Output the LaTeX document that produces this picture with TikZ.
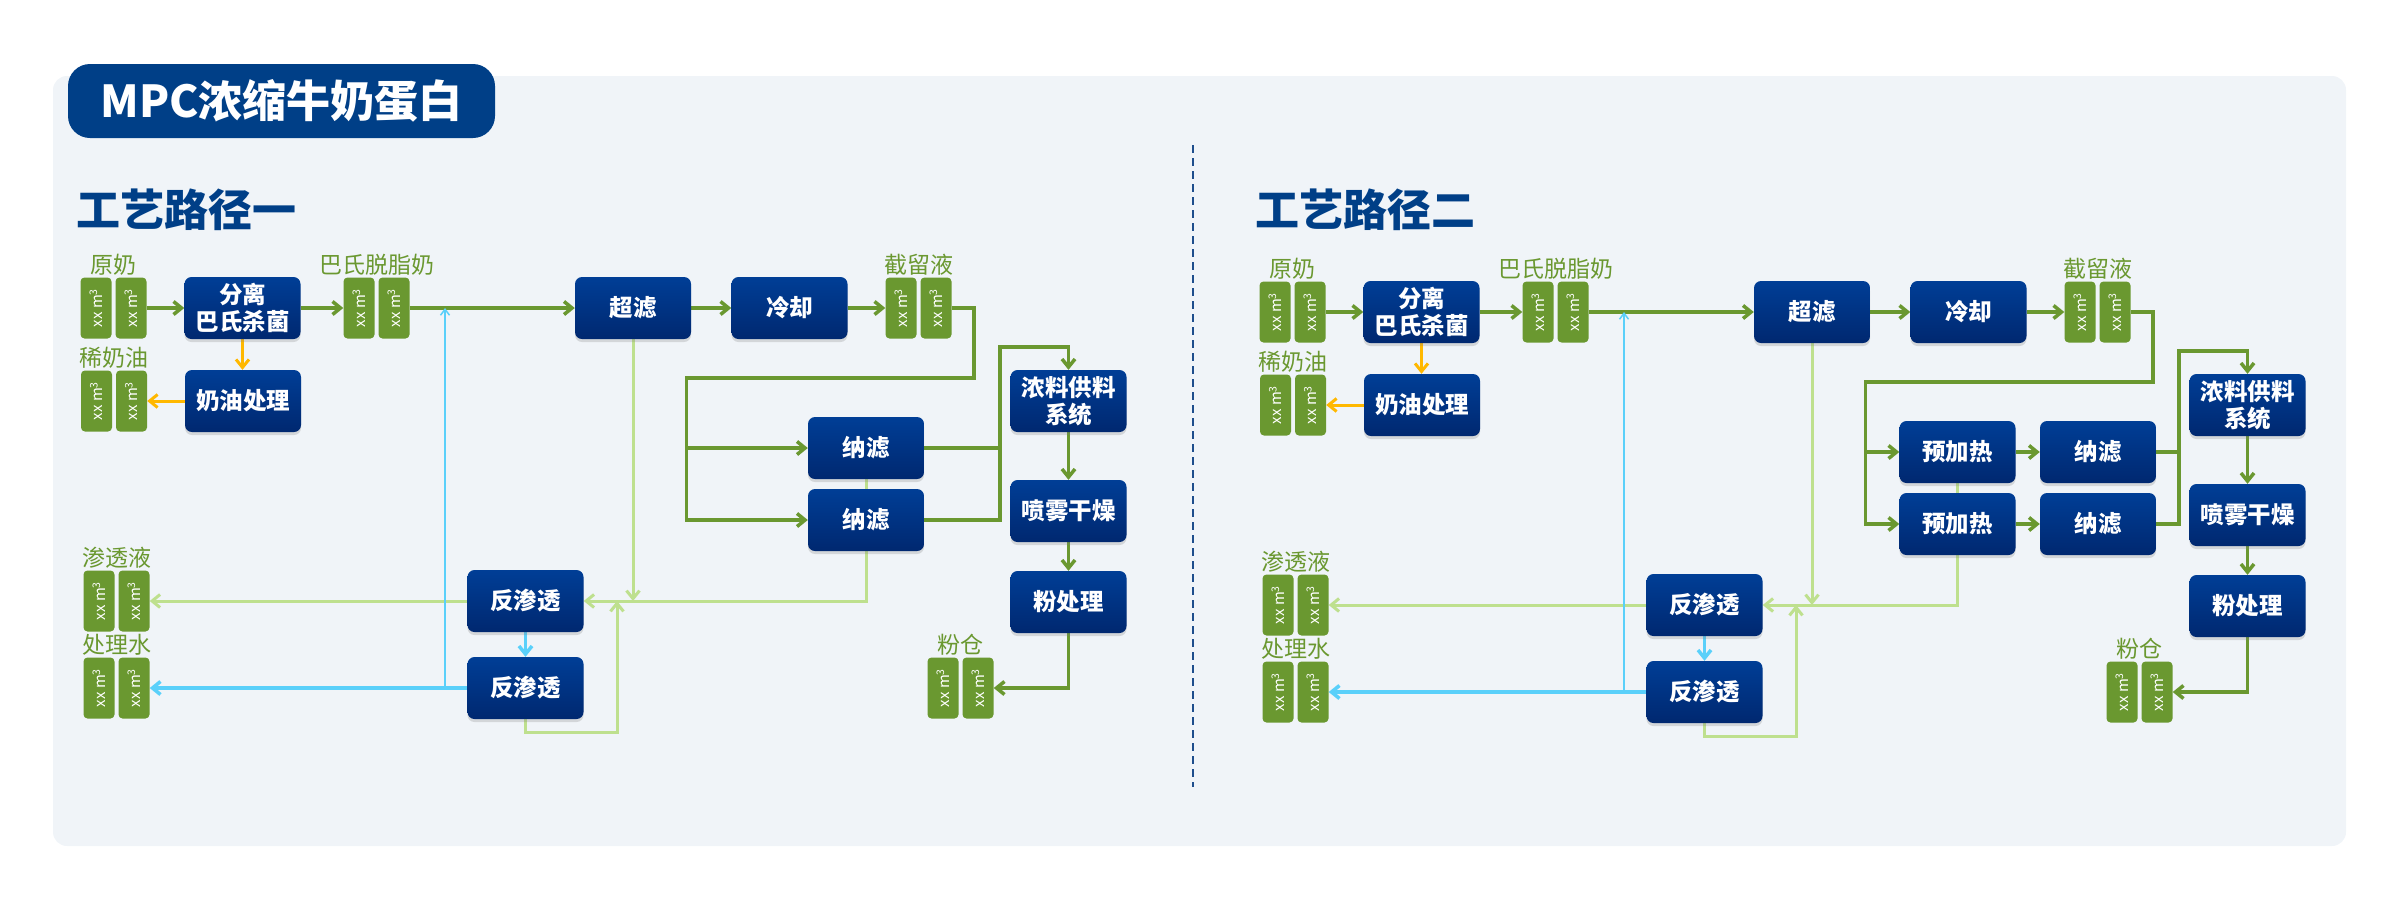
\documentclass[tikz,border=0pt]{standalone}
\usepackage{fontspec}
\setmainfont{Noto Sans CJK SC}
\usepackage{graphicx}
\usepackage{xcolor}
\usepackage{tikz}
\usetikzlibrary{arrows.meta, shadows}

\definecolor{fundo}{RGB}{240,244,248}
\definecolor{titulo}{RGB}{0,63,135}
\definecolor{caixaA}{RGB}{0,62,150}
\definecolor{caixaB}{RGB}{0,40,112}
\definecolor{verdetq}{RGB}{106,152,48}
\definecolor{verdeclaro}{RGB}{190,224,142}
\definecolor{celeste}{RGB}{90,208,250}
\definecolor{ambar}{RGB}{255,184,0}
\definecolor{tracejado}{RGB}{30,78,140}

\pgfdeclarelayer{bg}
\pgfsetlayers{bg,main}

\begin{document}
\begin{tikzpicture}[
    x=1pt, y=-1pt,
    every node/.style={inner sep=0pt},
    processo/.style={rounded corners=7pt, top color=caixaA, bottom color=caixaB,
      minimum width=116pt, minimum height=62pt, text=white, align=center,
      font=\fontsize{23.5}{27}\selectfont\bfseries,
      drop shadow={shadow xshift=0pt, shadow yshift=-3pt, opacity=0.25}},
    tanque/.style={rounded corners=4pt, fill=verdetq, minimum width=31pt,
      minimum height=61pt, text=white, font=\fontsize{15}{15}\selectfont},
    rotulo/.style={text=verdetq, font=\fontsize{23}{23}\selectfont}
  ]
  \tikzset{
    seta/.style={draw=verdetq, line width=3.5pt, -{Straight Barb[length=8pt,width=13pt]}},
    linha/.style={draw=verdetq, line width=3.5pt},
    setaclara/.style={draw=verdeclaro, line width=3pt, -{Straight Barb[length=8pt,width=13pt]}},
    setaazul/.style={draw=celeste, line width=3.5pt, -{Straight Barb[length=8pt,width=13pt]}},
    setafina/.style={draw=celeste, line width=1.5pt, -{Straight Barb[length=6pt,width=9pt]}},
    setaamarela/.style={draw=ambar, line width=3pt, -{Straight Barb[length=8pt,width=13pt]}}
  }
  \useasboundingbox (0,0) rectangle (2386,911);
  \begin{pgfonlayer}{bg}
    \fill[fundo, rounded corners=14pt] (53,76) rectangle (2346,846);
  \end{pgfonlayer}
  \node[fill=titulo, rounded corners=22pt, minimum width=427pt, minimum height=74pt,
    text=white, font=\fontsize{44}{44}\selectfont\bfseries] (mpc) at (281.5,101) {MPC浓缩牛奶蛋白};
  \node[anchor=west, text=titulo, font=\fontsize{44}{44}\selectfont\bfseries] (rota1) at (76,210) {工艺路径一};
  \node[anchor=west, text=titulo, font=\fontsize{44}{44}\selectfont\bfseries] (rota2) at (1255,210) {工艺路径二};
  \draw[tracejado, line width=2pt, dash pattern=on 8pt off 5pt] (1193,145) -- (1193,787);

  \begin{scope}[shift={(1179,4)}, name prefix=b-]
    \node[processo] (ph1) at (778.5,448) {预加热};
    \node[processo] (ph2) at (778.5,520) {预加热};
  \end{scope}

  \foreach \p/\dx/\dy/\xn/\e in {a/0/0/866/nf, b/1179/4/919/ph}{
  \begin{scope}[shift={(\dx,\dy)}, name prefix=\p-]
    \foreach \n/\x/\y/\rot in {cru/113.5/308/原奶, creme/114/401/稀奶油, desnat/376.5/308/巴氏脱脂奶,
        retido/918.5/308/截留液, po/960.5/688/粉仓, perm/116.5/601/渗透液, agua/116.5/688/处理水}{
      \node[tanque] (\n1) at (\x-17.5,\y) {\rotatebox{90}{xx m\textsuperscript{3}}};
      \node[tanque] (\n2) at (\x+17.5,\y) {\rotatebox{90}{xx m\textsuperscript{3}}};
      \node[rotulo] (\n) at (\x,\y-43) {\rot};
    }
    \foreach \n/\x/\y/\rot in {sep/242.5/308/{分离\\巴氏杀菌}, oleo/243/401/奶油处理, uf/633/308/超滤,
        frio/789.5/308/冷却, nf1/\xn/448/纳滤, nf2/\xn/520/纳滤, conc/1068.5/401/{浓料供料\\系统},
        spray/1068.5/511/喷雾干燥, pow/1068.5/602/粉处理, ro1/525.5/601/反渗透, ro2/525.5/688/反渗透}{
      \node[processo] (\n) at (\x,\y) {\rot};
    }
    \coordinate (dobra) at (974,378);
    \coordinate (ramo) at (686.5,378);
    \coordinate (saida) at (1000,347);
    \coordinate (retorno) at (445,688);
    \coordinate (junta) at (617,601);
    \begin{pgfonlayer}{bg}
      \draw[seta] (cru2.east) -- (sep.west);
      \draw[seta] (sep.east) -- (desnat1.west);
      \draw[seta] (desnat2.east) -- (uf.west);
      \draw[seta] (uf.east) -- (frio.west);
      \draw[seta] (frio.east) -- (retido1.west);
      \draw[seta] (retido2.east) -| (dobra) -- (ramo) |- (\e2.west);
      \draw[seta] (ramo |- \e1.west) -- (\e1.west);
      \draw[linha] (nf1.east) -- (nf1.east -| saida);
      \draw[seta] (nf2.east) -| (saida) -| (conc.north);
      \draw[seta] (conc.south) -- (spray.north);
      \draw[seta] (spray.south) -- (pow.north);
      \draw[seta] (pow.south) |- (po2.east);
      \draw[setaamarela] (sep.south) -- (sep.south |- oleo.north);
      \draw[setaamarela] (oleo.west) -- (creme2.east);
      \draw[setaclara] (uf.south) -- (uf.south |- ro1.east);
      \draw[setaclara] (\e1.south) |- (ro1.east);
      \draw[setaclara] (ro1.west) -- (perm2.east);
      \draw[setaclara] (ro2.south) -- ++(0,13) -| (junta);
      \draw[setaazul] (ro1.south) -- (ro2.north);
      \draw[setaazul] (ro2.west) -- (agua2.east);
      \draw[setafina] (retorno) -- (retorno |- uf.west);
    \end{pgfonlayer}
  \end{scope}
  }

  \begin{scope}[name prefix=b-]
    \draw[seta] (ph1.east) -- (nf1.west);
    \draw[seta] (ph2.east) -- (nf2.west);
  \end{scope}
\end{tikzpicture}
\end{document}
